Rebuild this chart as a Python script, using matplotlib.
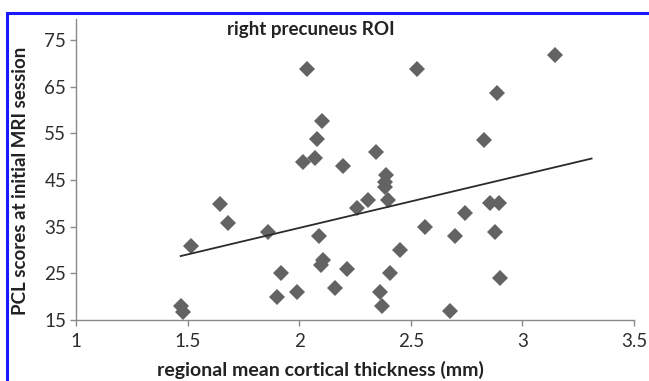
import matplotlib
matplotlib.use("Agg")
import matplotlib.pyplot as plt
from matplotlib.patches import Rectangle

# cortical thickness (mm) vs PCL score
thickness = [1.469, 1.478, 1.514, 1.643, 1.680, 1.862, 1.900, 1.918, 1.990,
             2.019, 2.034, 2.072, 2.079, 2.087, 2.102, 2.097, 2.106, 2.161,
             2.196, 2.213, 2.259, 2.306, 2.345, 2.360, 2.371, 2.387, 2.385,
             2.383, 2.398, 2.405, 2.450, 2.528, 2.565, 2.674, 2.700, 2.744,
             2.827, 2.857, 2.894, 2.879, 2.886, 2.901, 3.148]
pcl = [17.9, 16.8, 30.9, 39.9, 35.8, 33.9, 20.0, 25.0, 20.9,
       48.8, 68.7, 49.8, 53.7, 33.0, 57.7, 26.8, 27.9, 21.9,
       47.9, 25.9, 38.9, 40.7, 50.9, 20.9, 18.0, 46.1, 44.6,
       43.6, 40.7, 25.0, 30.0, 68.7, 34.9, 17.0, 33.0, 38.0,
       53.6, 40.0, 40.0, 33.9, 63.7, 24.1, 71.8]

# linear trend line endpoints
trend_x = [1.469, 3.31]
trend_y = [28.7, 49.6]

x_ticks = [1, 1.5, 2, 2.5, 3, 3.5]
x_tick_labels = ["1", "1.5", "2", "2.5", "3", "3.5"]
y_ticks = [15, 25, 35, 45, 55, 65, 75]

plt.rcParams["font.family"] = ["Lato", "DejaVu Sans"]

fig = plt.figure(figsize=(6.49, 3.81), dpi=100)
fig.patch.set_facecolor("white")

# blue frame (top and left edges visible)
fig.patches.append(Rectangle((7 / 649, -0.1), 1.2, 1 - 13 / 381 + 0.1,
                             transform=fig.transFigure, fill=False,
                             edgecolor="#1a1aff", linewidth=2.2))

ax = fig.add_axes([0.1171, 0.1601, 0.8598, 0.790])
ax.plot(thickness, pcl, linestyle="none", marker="D", markersize=8.5,
        color="#636363", markeredgewidth=0)
ax.plot(trend_x, trend_y, color="#2b2b2b", linewidth=1.3)

ax.set_xlim(1, 3.5)
ax.set_ylim(15, 79.5)
ax.set_xticks(x_ticks)
ax.set_xticklabels(x_tick_labels)
ax.set_yticks(y_ticks)

for s in ["top", "right"]:
    ax.spines[s].set_visible(False)
for s in ["left", "bottom"]:
    ax.spines[s].set_color("#8a8a8a")
    ax.spines[s].set_linewidth(1.0)
ax.tick_params(axis="both", direction="out", length=4, width=1,
               color="#8a8a8a", labelsize=13.5, labelcolor="#2e2e2e")
ax.tick_params(axis="x", pad=5)
ax.tick_params(axis="y", pad=3)

ax.text(0.42, 0.965, "right precuneus ROI", transform=ax.transAxes,
        ha="center", va="center", fontsize=13.5, fontweight="bold",
        color="#222222")

fig.text(0.493, 0.03, "regional mean cortical thickness (mm)",
         ha="center", va="center", fontsize=14, fontweight="bold",
         color="#222222")
fig.text(0.032, 0.525, "PCL scores at initial MRI session", rotation=90,
         ha="center", va="center", fontsize=13.5, fontweight="bold",
         color="#222222")

fig.savefig("out.png", dpi=100, facecolor="white")
